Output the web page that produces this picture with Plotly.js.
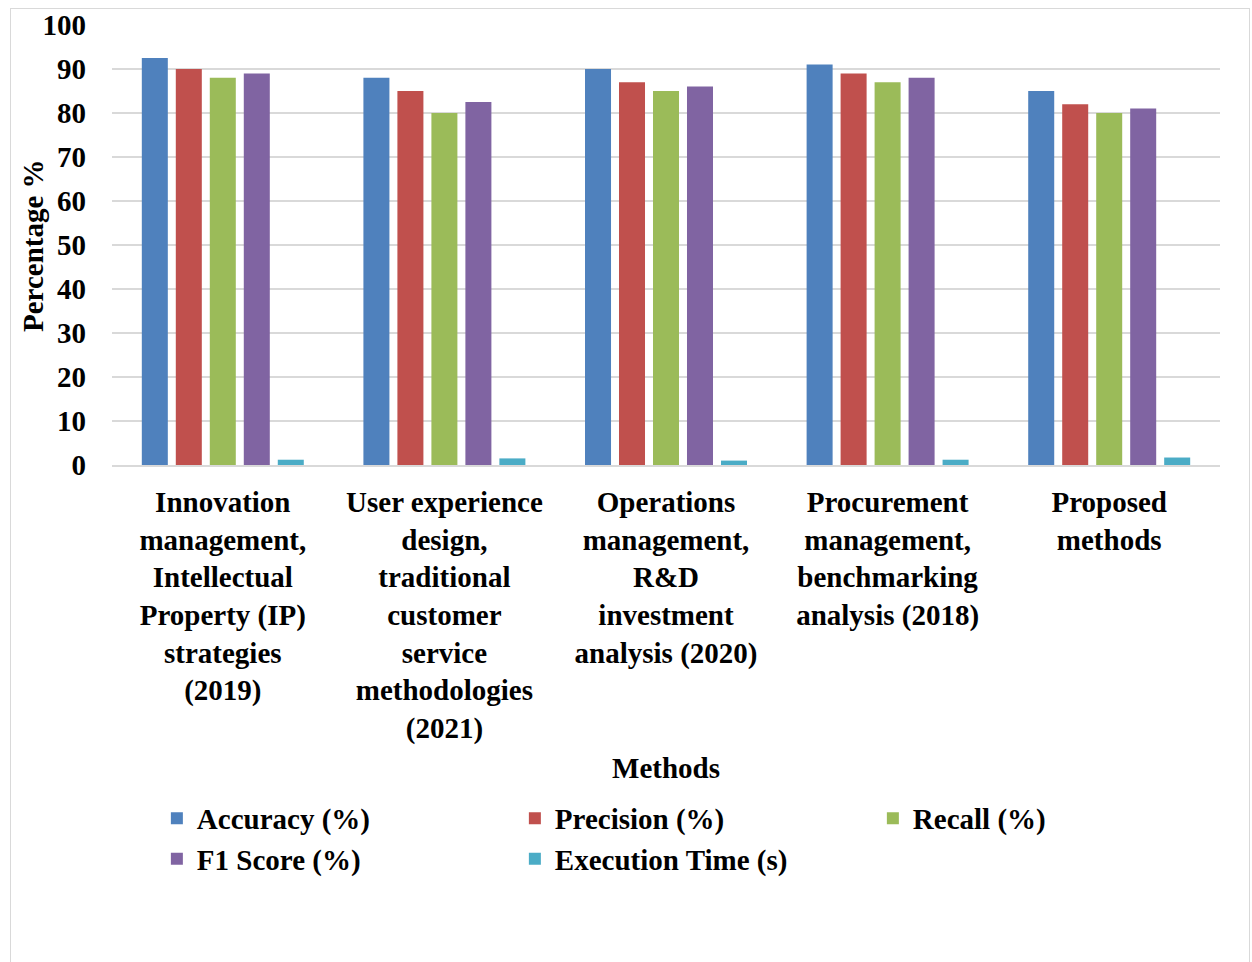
<!DOCTYPE html>
<html>
<head>
<meta charset="utf-8">
<script src="https://cdn.plot.ly/plotly-3.0.1.min.js"></script>
<style>
html,body{margin:0;padding:0;background:#fff;}
#frame{position:absolute;left:10px;top:8px;width:1240px;height:960px;border:1px solid #d9d9d9;box-sizing:border-box;}
#chart{position:absolute;left:0;top:0;width:1252px;height:962px;}
</style>
</head>
<body>
<div id="frame"></div>
<div id="chart"></div>
<script>
const categories = [
  "Innovation<br>management,<br>Intellectual<br>Property (IP)<br>strategies<br>(2019)",
  "User experience<br>design,<br>traditional<br>customer<br>service<br>methodologies<br>(2021)",
  "Operations<br>management,<br>R&D<br>investment<br>analysis (2020)",
  "Procurement<br>management,<br>benchmarking<br>analysis (2018)",
  "Proposed<br>methods"
];
const accuracy = [92.5, 88, 90, 91, 85];
const precision = [90, 85, 87, 89, 82];
const recall = [88, 80, 85, 87, 80];
const f1Score = [89, 82.5, 86, 88, 81];
const executionTime = [1.2, 1.5, 1.0, 1.2, 1.7];
const yTicks = [0, 10, 20, 30, 40, 50, 60, 70, 80, 90, 100];

const seriesNames = ["Accuracy (%)", "Precision (%)", "Recall (%)", "F1 Score (%)", "Execution Time (s)"];
const seriesValues = [accuracy, precision, recall, f1Score, executionTime];
const colors = ["#4F81BD", "#C0504D", "#9BBB59", "#8064A2", "#4BACC6"];

const font = {family: "Liberation Serif, Times New Roman, serif", size: 29, color: "#000", weight: "bold"};

const traces = seriesNames.map((n, i) => ({
  type: "bar",
  name: n,
  x: categories,
  y: seriesValues[i],
  marker: {color: colors[i], line: {width: 0}},
  hoverinfo: "y+name"
}));

const layout = {
  width: 1252, height: 962,
  paper_bgcolor: "rgba(0,0,0,0)",
  plot_bgcolor: "rgba(0,0,0,0)",
  margin: {l: 112, r: 32, t: 25, b: 497},
  font: font,
  barmode: "group",
  bargap: 0.233,
  bargroupgap: 0.235,
  showlegend: true,
  legend: {
    orientation: "h",
    x: 0.0405, xanchor: "left",
    y: -0.745, yanchor: "top",
    font: font,
    entrywidth: 313, entrywidthmode: "pixels",
    tracegroupgap: 0,
    itemwidth: 30
  },
  xaxis: {
    tickfont: font,
    showline: true, linecolor: "#d9d9d9", linewidth: 2,
    ticks: "", automargin: false,
    ticklabelstandoff: 10,
    title: {text: "Methods", font: font, standoff: 14}
  },
  yaxis: {
    range: [0, 100],
    tickvals: yTicks,
    ticktext: yTicks.map(String),
    tickfont: font,
    showgrid: true, gridcolor: "#d9d9d9", gridwidth: 2,
    zeroline: false,
    ticks: "", ticklabelstandoff: 25,
    automargin: false
  },
  annotations: [{
    text: "Percentage %",
    xref: "paper", yref: "paper",
    x: -0.0713, y: 0.5,
    xanchor: "center", yanchor: "middle",
    textangle: -90,
    showarrow: false,
    font: font
  }]
};

Plotly.newPlot("chart", traces, layout, {displayModeBar: false, staticPlot: true});
</script>
</body>
</html>
